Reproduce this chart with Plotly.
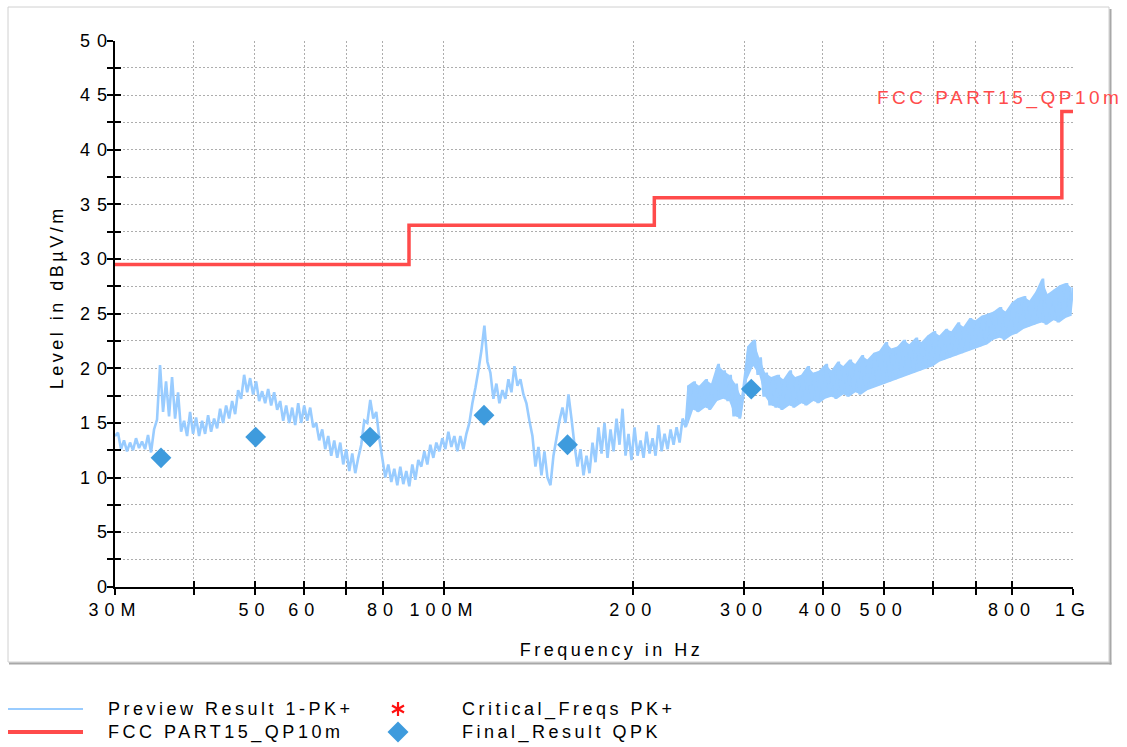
import numpy as np
import plotly.graph_objects as go

W, H = 1127, 747

# ---------------- data ----------------
# Preview Result 1-PK+ : receiver sweep 30 MHz .. 1 GHz (log spaced), level in dBuV/m
pk_start_mhz = 30
pk_stop_mhz = 1000
pk_levels = [
    13.8, 14.1, 12.6, 13.4, 12.4, 13.2, 12.5, 13.6, 12.7, 13.3,
    12.6, 13.9, 12.3, 14.4, 15.3, 20.3, 16.0, 18.8, 15.6, 19.2,
    15.4, 17.8, 14.2, 15.2, 13.8, 16.0, 14.0, 15.5, 13.8, 15.2,
    14.0, 15.7, 14.2, 15.4, 14.5, 16.3, 15.0, 16.6, 15.4, 17.0,
    15.8, 18.0, 17.2, 19.4, 17.8, 19.1, 17.6, 18.8, 17.0, 17.9,
    16.8, 18.1, 16.6, 17.8, 16.2, 17.0, 15.2, 16.6, 15.0, 16.4,
    14.8, 16.8, 15.0, 16.6, 15.2, 16.4, 14.6, 15.0, 13.4, 14.4,
    12.6, 13.8, 12.0, 13.4, 11.8, 13.2, 11.2, 12.6, 10.6, 12.2,
    10.4, 11.8, 13.0, 15.2, 15.0, 17.1, 15.4, 16.0, 13.6, 11.8,
    10.0, 11.2, 9.6, 10.8, 9.3, 11.0, 9.4, 10.6, 9.2, 11.2,
    9.8, 11.6, 11.0, 12.4, 11.2, 13.0, 11.8, 13.2, 12.4, 13.6,
    12.6, 14.2, 12.8, 13.8, 12.4, 13.8, 12.6, 14.0, 15.0, 16.8,
    18.2, 19.8, 21.6, 23.9, 20.6, 19.6, 17.2, 18.6, 16.8, 18.0,
    17.2, 19.0, 17.8, 20.2, 18.4, 19.0, 17.6, 16.8, 15.2, 13.8,
    11.0, 12.8, 10.2, 12.4, 10.0, 9.3, 12.0, 13.6, 15.2, 16.4,
    15.0, 17.6, 15.4, 13.0, 11.0, 12.6, 10.2, 12.0, 10.4, 13.2,
    11.4, 14.6, 12.2, 15.0, 11.8, 14.4, 12.4, 15.4, 13.0, 16.3,
    12.0, 14.0, 11.6, 14.6, 12.0, 13.4, 11.8, 14.2, 12.2, 13.6,
    12.0, 14.8, 12.4, 14.0, 12.6, 14.4, 13.0, 14.6, 13.2, 15.4,
    14.6, 18.4, 16.2, 18.8, 16.0, 18.4, 16.4, 19.0, 16.2, 18.6,
    17.0, 20.4, 17.2, 19.8, 17.0, 19.4, 15.6, 18.6, 15.4, 17.4,
    19.0, 22.0, 20.2, 22.6, 19.4, 21.0, 17.4, 19.6, 16.6, 19.2,
    16.4, 19.4, 16.2, 19.0, 16.6, 19.8, 16.4, 19.2, 16.8, 19.4,
    16.6, 20.2, 17.0, 19.6, 16.8, 19.8, 17.2, 20.4, 17.4, 19.8,
    17.2, 20.6, 17.6, 20.2, 17.4, 20.8, 17.8, 20.4, 17.6, 21.2,
    18.0, 20.8, 18.2, 21.4, 18.4, 21.6, 18.6, 22.4, 18.8, 21.8,
    19.0, 22.0, 19.2, 22.6, 19.4, 22.2, 19.6, 22.8, 19.8, 22.4,
    20.0, 23.0, 20.2, 23.4, 20.6, 23.0, 20.8, 23.6, 21.0, 23.4,
    21.2, 24.2, 21.4, 23.8, 21.6, 24.6, 21.8, 24.4, 22.0, 24.8,
    22.2, 25.0, 22.6, 25.2, 22.8, 25.6, 22.6, 25.2, 23.0, 26.0,
    23.2, 26.4, 23.6, 26.6, 23.8, 26.2, 24.0, 27.0, 24.2, 28.2,
    24.0, 26.8, 24.4, 27.2, 24.2, 27.6, 24.6, 27.8, 24.8, 27.4,
]
pk_freqs_mhz = np.geomspace(pk_start_mhz, pk_stop_mhz, len(pk_levels))

# FCC PART15_QP10m limit (step edges, MHz) and levels
limit_freqs_mhz = [30, 88, 216, 960, 1000]
limit_levels = [29.5, 33.1, 35.6, 43.5, 43.5]

# Final_Result QPK
qpk_freqs_mhz = [35.5, 50.2, 76.3, 115.8, 157.2, 308.0]
qpk_levels = [11.8, 13.7, 13.7, 15.7, 13.0, 18.1]

# Critical_Freqs PK+ (no entries in this chart)
crit_freqs_mhz = []
crit_levels = []

# axis ticks
x_tickvals = [30, 40, 50, 60, 70, 80, 100, 200, 300, 400, 500, 600, 700, 800, 1000]
x_ticktext = ["30M", "", "50", "60", "", "80", "100M", "200", "300", "400", "500", "", "", "800", "1G"]
y_tickvals = [2.5 * k for k in range(21)]
y_ticktext = [str(int(v)) if v % 5 == 0 else "" for v in y_tickvals]

# ---------------- styling ----------------
FONT = "Liberation Sans, Arial, sans-serif"
C_PK = "#99CCFF"
C_LIM = "#FF4B4B"
C_QPK = "#3E9BDD"
GRID = "#ADADAD"
DENSE_FROM_MHZ = 240  # above this the sweep shows as a solid noise band


def px(x):
    return x / W


def py(y):
    return 1 - y / H


x_dom = [px(115), px(1073)]
y_dom = [py(586.8), py(40.5)]
x_rng = [np.log10(30), np.log10(1000)]
y_rng = [0, 50]

# envelope of the dense part of the preview sweep (max/min of each adjacent pair)
lv = np.array(pk_levels)
fq = np.array(pk_freqs_mhz)
n2 = len(lv) // 2
band_f = np.sqrt(fq[0:2 * n2:2] * fq[1:2 * n2:2])
band_hi = np.maximum(lv[0:2 * n2:2], lv[1:2 * n2:2])
band_lo = np.minimum(lv[0:2 * n2:2], lv[1:2 * n2:2])
m = band_f >= DENSE_FROM_MHZ
band_f, band_hi, band_lo = band_f[m], band_hi[m], band_lo[m]

fig = go.Figure()

fig.add_trace(go.Scatter(
    x=np.concatenate([band_f, band_f[::-1]]),
    y=np.concatenate([band_hi, band_lo[::-1]]),
    mode="lines", fill="toself", fillcolor=C_PK, line=dict(width=0, color=C_PK),
    name="Preview Result 1-PK+ band", showlegend=False, hoverinfo="skip"))
fig.add_trace(go.Scatter(
    x=pk_freqs_mhz, y=pk_levels, mode="lines", name="Preview Result 1-PK+",
    line=dict(color=C_PK, width=2.6, simplify=False), showlegend=False, hoverinfo="skip"))
fig.add_trace(go.Scatter(
    x=limit_freqs_mhz, y=limit_levels, mode="lines", name="FCC PART15_QP10m",
    line=dict(color=C_LIM, width=3.5, shape="hv"), showlegend=False))
fig.add_trace(go.Scatter(
    x=qpk_freqs_mhz, y=qpk_levels, mode="markers", name="Final_Result QPK",
    marker=dict(symbol="diamond", size=16, color=C_QPK, line=dict(width=0)),
    showlegend=False))
# empty series on overlay axes (these axes give crossing tick marks + y labels)
fig.add_trace(go.Scatter(
    x=crit_freqs_mhz, y=crit_levels, mode="markers", name="Critical_Freqs PK+",
    marker=dict(symbol="asterisk-open", size=12, color="red"),
    xaxis="x2", yaxis="y2", showlegend=False))

tickfont = dict(family=FONT, size=18, color="black")
fig.update_layout(
    width=W, height=H, autosize=False, showlegend=False,
    margin=dict(l=0, r=0, t=0, b=0, pad=0, autoexpand=False),
    paper_bgcolor="white", plot_bgcolor="white",
    font=dict(family=FONT, size=18, color="black"),
    xaxis=dict(type="log", domain=x_dom, range=x_rng, anchor="y",
               tickmode="array", tickvals=x_tickvals, ticktext=x_ticktext,
               ticks="outside", ticklen=6, tickwidth=1.5, tickcolor="black",
               showline=True, linecolor="black", linewidth=2,
               showgrid=True, gridcolor=GRID, gridwidth=1, griddash="2px,2px",
               zeroline=False, tickfont=tickfont),
    yaxis=dict(domain=y_dom, range=y_rng, anchor="x",
               tickmode="array", tickvals=y_tickvals, showticklabels=False,
               ticks="outside", ticklen=6, tickwidth=1.5, tickcolor="black",
               showline=True, linecolor="black", linewidth=2,
               showgrid=True, gridcolor=GRID, gridwidth=1, griddash="2px,2px",
               zeroline=False),
    xaxis2=dict(type="log", overlaying="x", range=x_rng, anchor="y",
                tickmode="array", tickvals=x_tickvals, showticklabels=False,
                ticks="inside", ticklen=6, tickwidth=1.5, tickcolor="black",
                showline=False, showgrid=False, zeroline=False),
    yaxis2=dict(overlaying="y", range=y_rng, anchor="x", side="left",
                tickmode="array", tickvals=y_tickvals, ticktext=y_ticktext,
                ticks="inside", ticklen=6, tickwidth=1.5, tickcolor="black",
                showline=False, showgrid=False, zeroline=False, tickfont=tickfont),
)

shapes = []
# outer frame with shadow
shapes.append(dict(type="rect", xref="paper", yref="paper",
                   x0=px(8), x1=px(1109), y0=py(662), y1=py(7),
                   line=dict(color="#D0D0D0", width=1), layer="below"))
shapes.append(dict(type="line", xref="paper", yref="paper",
                   x0=px(1110.5), x1=px(1110.5), y0=py(9), y1=py(664.5),
                   line=dict(color="#A8A8A8", width=2)))
shapes.append(dict(type="line", xref="paper", yref="paper",
                   x0=px(9), x1=px(1111.5), y0=py(663.5), y1=py(663.5),
                   line=dict(color="#A8A8A8", width=2)))
# legend symbols
shapes.append(dict(type="line", xref="paper", yref="paper",
                   x0=px(8), x1=px(83), y0=py(709), y1=py(709),
                   line=dict(color=C_PK, width=2)))
shapes.append(dict(type="line", xref="paper", yref="paper",
                   x0=px(8), x1=px(83), y0=py(732), y1=py(732),
                   line=dict(color=C_LIM, width=4)))
ax, ay = 398, 709
ast = (f"M{px(ax)},{py(ay-7)} L{px(ax)},{py(ay+7)} "
       f"M{px(ax-6)},{py(ay-3.5)} L{px(ax+6)},{py(ay+3.5)} "
       f"M{px(ax-6)},{py(ay+3.5)} L{px(ax+6)},{py(ay-3.5)}")
shapes.append(dict(type="path", xref="paper", yref="paper", path=ast,
                   line=dict(color="#FF1010", width=2.2)))
dx, dy, r = 398, 732, 10.5
dia = (f"M{px(dx-r)},{py(dy)} L{px(dx)},{py(dy-r)} L{px(dx+r)},{py(dy)} "
       f"L{px(dx)},{py(dy+r)} Z")
shapes.append(dict(type="path", xref="paper", yref="paper", path=dia,
                   fillcolor=C_QPK, line=dict(width=0)))
fig.update_layout(shapes=shapes)

ann = []


def add_text(text, x, y, xanchor="left", size=18, color="black", angle=0):
    ann.append(dict(text=text, x=px(x), y=py(y), xref="paper", yref="paper",
                    xanchor=xanchor, yanchor="middle", align=xanchor,
                    showarrow=False, textangle=angle,
                    font=dict(family=FONT, size=size, color=color)))


add_text("Preview Result 1-PK+", 106, 709)
add_text("FCC PART15_QP10m", 106, 732)
add_text("Critical_Freqs PK+", 460, 709)
add_text("Final_Result QPK", 460, 732)
add_text("Frequency in Hz", 612, 650, xanchor="center")
add_text("Level in dBµV/m", 57, 298, xanchor="center", angle=-90)
add_text("FCC PART15_QP10m", 1124, 98, xanchor="right", size=19, color=C_LIM)
fig.update_layout(annotations=ann)

post = """
var st = document.createElement('style');
st.textContent = '.xtick text, .ytick text, .x2tick text {letter-spacing:6px;} .y2tick text {letter-spacing:7px;} .annotation-text {letter-spacing:3.5px;}';
document.head.appendChild(st);
"""

fig.write_html("out.html", post_script=post)
